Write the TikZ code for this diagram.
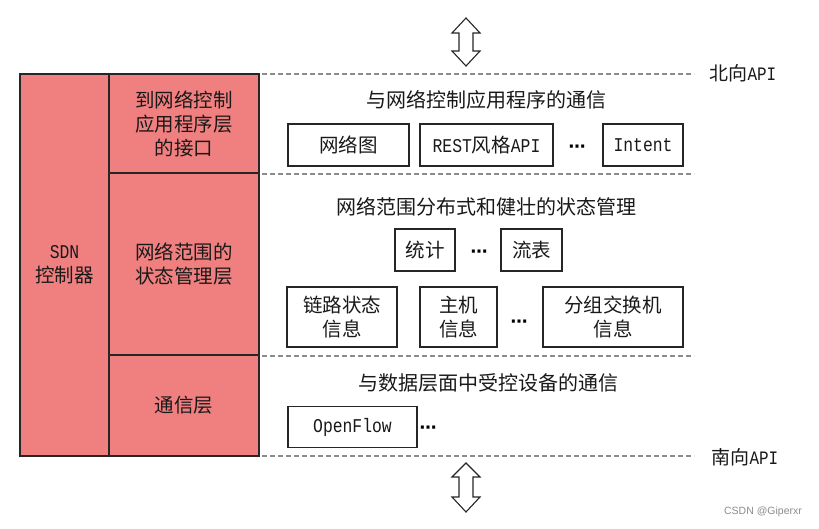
\documentclass[tikz,border=0pt]{standalone}
\usepackage{fontspec}
\setmainfont{Noto Sans CJK SC}
\newfontfamily\lat[FakeStretch=0.84]{Liberation Mono}
\newfontfamily\dejavu{DejaVu Sans}
\newfontfamily\wm{Liberation Sans}
\definecolor{coral}{RGB}{240,128,128}
\definecolor{dashgray}{RGB}{140,140,140}
\newcommand{\dotsc}{{\dejavu\bfseries\fontsize{17}{17}\selectfont ⋯}}
\begin{document}
\begin{tikzpicture}[x=1pt,y=-1pt,
  layer/.style={draw=black!85, line width=1.1pt, fill=coral, inner sep=0pt, align=center,
    font=\fontsize{19.5}{24}\selectfont, text=black!90},
  item/.style={draw=black!85, line width=1.1pt, fill=white, inner sep=0pt, align=center,
    font=\fontsize{19.5}{24}\selectfont, text=black!90},
  title/.style={font=\fontsize{20}{22}\selectfont, text=black!90},
  sep/.style={dashgray, line width=1.4pt, dash pattern=on 5pt off 3pt},
  dotsnode/.style={inner sep=0pt},
  bigarrow/.style={draw=black!85, line width=1.1pt, fill=white, line join=miter},
  apilabel/.style={font=\fontsize{19}{22}\selectfont, text=black!90, anchor=west}]
\useasboundingbox (0,0) rectangle (819,529);
\fill[white] (0,0) rectangle (819,529);

% left controller block
\node[layer, minimum width=89pt, minimum height=382pt] (sdn) at (64.5,265) {{\lat SDN}\\控制器};
\node[layer, minimum width=150pt, minimum height=99pt] (l1) at (184,123.5) {到网络控制\\应用程序层\\的接口};
\node[layer, minimum width=150pt, minimum height=182pt] (l2) at (184,264) {网络范围的\\状态管理层};
\node[layer, minimum width=150pt, minimum height=101pt] (l3) at (184,405.5) {通信层};

% dashed separators
\coordinate (a1) at (262,74);  \coordinate (a2) at (694,74);
\coordinate (b1) at (262,174); \coordinate (b2) at (694,174);
\coordinate (c1) at (262,356); \coordinate (c2) at (694,356);
\coordinate (e1) at (262,456); \coordinate (e2) at (694,456);
\draw[sep] (a1) -- (a2);
\draw[sep] (b1) -- (b2);
\draw[sep] (c1) -- (c2);
\draw[sep] (e1) -- (e2);
\node[apilabel] (north) at (706,73) {北向{\lat API}};
\node[apilabel] (south) at (708,457) {南向{\lat API}};

% row 1
\node[title] (t1) at (486,100) {与网络控制应用程序的通信};
\node[item, minimum width=121pt, minimum height=42pt] (n1) at (348.5,145) {网络图};
\node[item, minimum width=133pt, minimum height=42pt] (n2) at (486.5,145) {{\lat REST}风格{\lat API}};
\node[dotsnode] (d1) at (577,149) {\dotsc};
\node[item, minimum width=80pt, minimum height=42pt] (n3) at (643,145) {\lat Intent};

% row 2
\node[title] (t2) at (486,207) {网络范围分布式和健壮的状态管理};
\node[item, minimum width=60pt, minimum height=42pt] (s1) at (425,250) {统计};
\node[dotsnode] (d2) at (479,254) {\dotsc};
\node[item, minimum width=61pt, minimum height=42pt] (s2) at (531.5,250) {流表};
\node[item, minimum width=110pt, minimum height=60pt] (m1) at (342,317) {链路状态\\信息};
\node[item, minimum width=77pt, minimum height=60pt] (m2) at (458.5,317) {主机\\信息};
\node[dotsnode] (d3) at (519,324) {\dotsc};
\node[item, minimum width=140pt, minimum height=60pt] (m3) at (613,317) {分组交换机\\信息};

% row 3
\node[title] (t3) at (488,383) {与数据层面中受控设备的通信};
\node[item, minimum width=129pt, minimum height=41pt] (o1) at (352.5,427) {\lat OpenFlow};
\node[dotsnode] (d4) at (428,430) {\dotsc};

% double arrows
\draw[bigarrow] (466,18) -- (480,33) -- (473,33) -- (473,51) -- (480,51) -- (466,66)
  -- (452,51) -- (459,51) -- (459,33) -- (452,33) -- cycle;
\draw[bigarrow] (466,463) -- (480,477) -- (473,477) -- (473,497) -- (480,497) -- (466,512)
  -- (452,497) -- (459,497) -- (459,477) -- (452,477) -- cycle;

% watermark
\node[font=\wm\fontsize{10.5}{12}\selectfont, text=black!45] (wmark) at (763,512) {CSDN @Giperxr};
\end{tikzpicture}
\end{document}
